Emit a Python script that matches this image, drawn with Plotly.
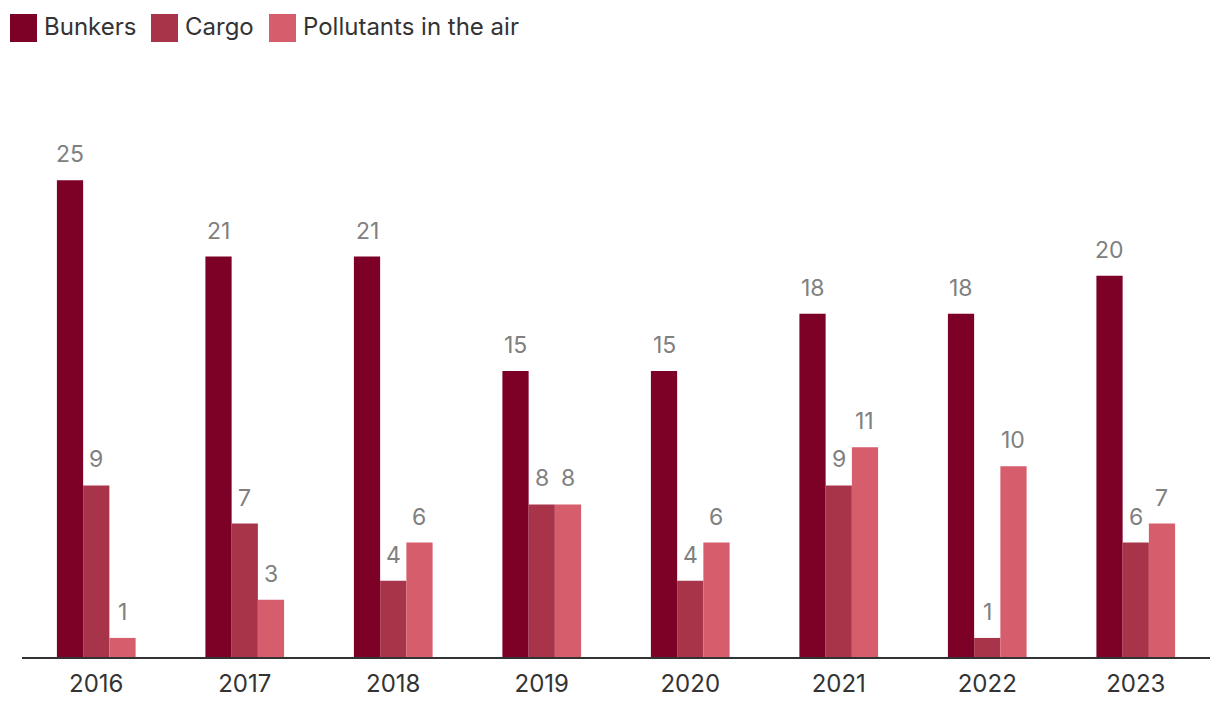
import plotly.graph_objects as go

years = ["2016", "2017", "2018", "2019", "2020", "2021", "2022", "2023"]
bunkers = [25, 21, 21, 15, 15, 18, 18, 20]
cargo = [9, 7, 4, 8, 4, 9, 1, 6]
pollutants = [1, 3, 6, 8, 6, 11, 10, 7]

series = [
    ("Bunkers", bunkers, "#7d0027"),
    ("Cargo", cargo, "#a8344a"),
    ("Pollutants in the air", pollutants, "#d65d6b"),
]

W, H = 1220, 716
OFF = 8  # default page body margin
ML, MR, MT, MB = 22 - OFF, 10 + OFF, 85 - OFF, 59 + OFF
bargap = 0.47
plot_w = W - ML - MR
plot_h = H - MT - MB
slot = plot_w / len(years)
bar_w = slot * (1 - bargap) / len(series)

fig = go.Figure()
annotations = []
shapes = []
for i, (name, vals, color) in enumerate(series):
    fig.add_trace(go.Bar(
        x=years, y=vals, name=name, marker_color=color, marker_line_width=0,
        showlegend=False,
    ))
    off = (i - 1) * bar_w
    for idx, v in enumerate(vals):
        annotations.append(dict(
            x=idx, y=v, xref="x", yref="y", text=str(v), showarrow=False,
            xanchor="center", yanchor="bottom", xshift=off, yshift=10,
            font=dict(family="Inter", size=23, color="#808080"),
        ))

# legend (swatches + text), page pixel positions
leg_x = [10, 151, 269]
for (name, vals, color), lx in zip(series, leg_x):
    px = lx - OFF
    shapes.append(dict(type="rect", xref="paper", yref="paper",
                       x0=(px - ML) / plot_w, x1=(px + 27 - ML) / plot_w,
                       y0=1 + (MT - (42 - OFF)) / plot_h, y1=1 + (MT - (14 - OFF)) / plot_h,
                       fillcolor=color, line=dict(width=0)))
    annotations.append(dict(
        x=(px + 32 - ML) / plot_w, y=1 + (MT - (27 - OFF)) / plot_h,
        xref="paper", yref="paper", text=name, showarrow=False,
        xanchor="left", yanchor="middle",
        font=dict(family="Inter", size=24, color="#333333"),
    ))

fig.update_layout(
    width=W, height=H,
    margin=dict(l=ML, r=MR, t=MT, b=MB),
    paper_bgcolor="white", plot_bgcolor="white",
    barmode="group", bargap=bargap, bargroupgap=0,
    font=dict(family="Inter", color="#333333"),
    showlegend=False,
    annotations=annotations, shapes=shapes,
    xaxis=dict(type="category", range=[-0.5, len(years) - 0.5],
               showline=True, linecolor="#333333", linewidth=2, ticks="",
               tickfont=dict(family="Inter", size=24, color="#333333"),
               ticklabelstandoff=4, showgrid=False, automargin=False),
    yaxis=dict(range=[0, 30], visible=False, showgrid=False),
)

fig.write_html("out.html")
